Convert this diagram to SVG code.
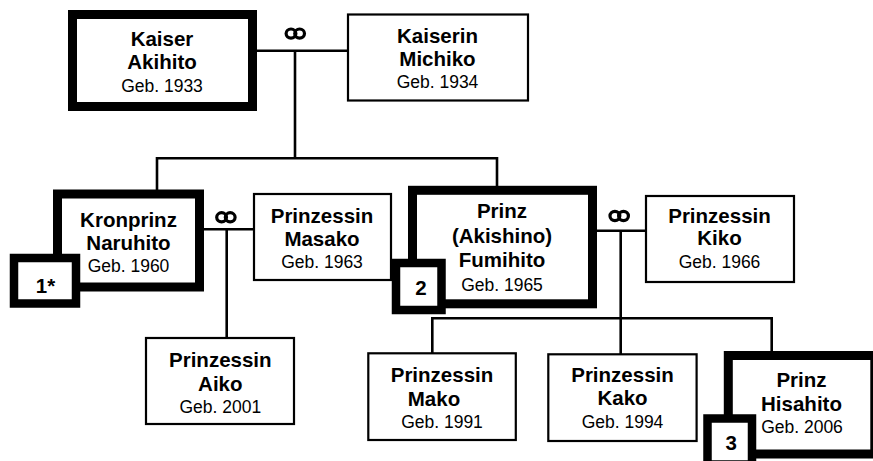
<svg xmlns="http://www.w3.org/2000/svg" width="873" height="461" viewBox="0 0 873 461">
<style>
.bg{fill:#fff}
.thin{fill:#fff;stroke:#000;stroke-width:2.2}
.thick{fill:#fff;stroke:#000;stroke-width:9}
.badge{fill:#fff;stroke:#000;stroke-width:8.5}
.ln{stroke:#000;stroke-width:2.6;fill:none}
.ring{fill:none;stroke:#000;stroke-width:3.2}
text{font-family:"Liberation Sans",Arial,sans-serif;text-anchor:middle;fill:#000}
.b{font-weight:bold;font-size:20.5px}
.r{font-size:17.5px}
</style>
<rect class="bg" x="0" y="0" width="873" height="461"/>
<g id="connectors">
  <line class="ln" x1="256" y1="50.7" x2="349" y2="50.7"/>
  <line class="ln" x1="295" y1="50.7" x2="295" y2="158.3"/>
  <polyline class="ln" points="157,191 157,158.3 497,158.3 497,187"/>
  <line class="ln" x1="203" y1="229.3" x2="255" y2="229.3"/>
  <line class="ln" x1="226.7" y1="229.3" x2="226.7" y2="339"/>
  <line class="ln" x1="596" y1="230.7" x2="647" y2="230.7"/>
  <line class="ln" x1="620.7" y1="230.7" x2="620.7" y2="355"/>
  <polyline class="ln" points="432.3,354 432.3,318.3 771.7,318.3 771.7,352"/>
  <g id="rings">
    <ellipse class="ring" cx="291" cy="33.6" rx="4.9" ry="4.6"/>
    <ellipse class="ring" cx="299.6" cy="33.6" rx="4.9" ry="4.6"/>
    <ellipse class="ring" cx="221.6" cy="217.3" rx="4.9" ry="4.6"/>
    <ellipse class="ring" cx="230.2" cy="217.3" rx="4.9" ry="4.6"/>
    <ellipse class="ring" cx="614.9" cy="216" rx="4.9" ry="4.6"/>
    <ellipse class="ring" cx="623.5" cy="216" rx="4.9" ry="4.6"/>
  </g>
</g>
<g id="akihito">
  <rect class="thick" x="72.5" y="14.5" width="180" height="92"/>
  <text class="b" x="162" y="46">Kaiser</text>
  <text class="b" x="162" y="69.3">Akihito</text>
  <text class="r" x="162" y="91.7">Geb. 1933</text>
</g>
<g id="michiko">
  <rect class="thin" x="348" y="14.5" width="180" height="86"/>
  <text class="b" x="437.5" y="42.7">Kaiserin</text>
  <text class="b" x="437.5" y="66">Michiko</text>
  <text class="r" x="437.5" y="88.3">Geb. 1934</text>
</g>
<g id="naruhito">
  <rect class="thick" x="57.5" y="194" width="142" height="93"/>
  <text class="b" x="128.5" y="227.3">Kronprinz</text>
  <text class="b" x="128.5" y="250">Naruhito</text>
  <text class="r" x="128.5" y="271.7">Geb. 1960</text>
</g>
<g id="badge1">
  <rect class="badge" x="14" y="258" width="62" height="45.5"/>
  <text class="b" x="45.5" y="293.3">1*</text>
</g>
<g id="masako">
  <rect class="thin" x="254" y="194" width="137" height="86"/>
  <text class="b" x="322" y="222.7">Prinzessin</text>
  <text class="b" x="322" y="246">Masako</text>
  <text class="r" x="322" y="268.3">Geb. 1963</text>
</g>
<g id="fumihito">
  <rect class="thick" x="412.5" y="190.3" width="180" height="113.5"/>
  <text class="b" x="502" y="218.3">Prinz</text>
  <text class="b" x="502" y="242.7">(Akishino)</text>
  <text class="b" x="502" y="267.3">Fumihito</text>
  <text class="r" x="502" y="290.7">Geb. 1965</text>
</g>
<g id="badge2">
  <rect class="badge" x="396" y="263" width="45.5" height="47"/>
  <text class="b" x="421" y="295">2</text>
</g>
<g id="kiko">
  <rect class="thin" x="646" y="196" width="148" height="86"/>
  <text class="b" x="719.5" y="223.3">Prinzessin</text>
  <text class="b" x="719.5" y="245">Kiko</text>
  <text class="r" x="719.5" y="268.3">Geb. 1966</text>
</g>
<g id="aiko">
  <rect class="thin" x="146" y="338" width="148" height="86"/>
  <text class="b" x="220.3" y="366.7">Prinzessin</text>
  <text class="b" x="220.3" y="391">Aiko</text>
  <text class="r" x="220.3" y="412.7">Geb. 2001</text>
</g>
<g id="mako">
  <rect class="thin" x="368.3" y="353.3" width="147.5" height="86.7"/>
  <text class="b" x="442" y="381.7">Prinzessin</text>
  <text class="b" x="434" y="406">Mako</text>
  <text class="r" x="442" y="427.7">Geb. 1991</text>
</g>
<g id="kako">
  <rect class="thin" x="548.3" y="354.3" width="148.3" height="86.7"/>
  <text class="b" x="622.5" y="381.7">Prinzessin</text>
  <text class="b" x="622.5" y="405">Kako</text>
  <text class="r" x="622.5" y="427.7">Geb. 1994</text>
</g>
<g id="hisahito">
  <rect class="thick" x="728.3" y="355.5" width="146.5" height="98.5"/>
  <text class="b" x="801.5" y="386.7">Prinz</text>
  <text class="b" x="801.5" y="410.7">Hisahito</text>
  <text class="r" x="802" y="432.7">Geb. 2006</text>
</g>
<g id="badge3">
  <rect class="badge" x="707.5" y="418.5" width="44.5" height="46"/>
  <text class="b" x="731.3" y="450">3</text>
</g>
</svg>
